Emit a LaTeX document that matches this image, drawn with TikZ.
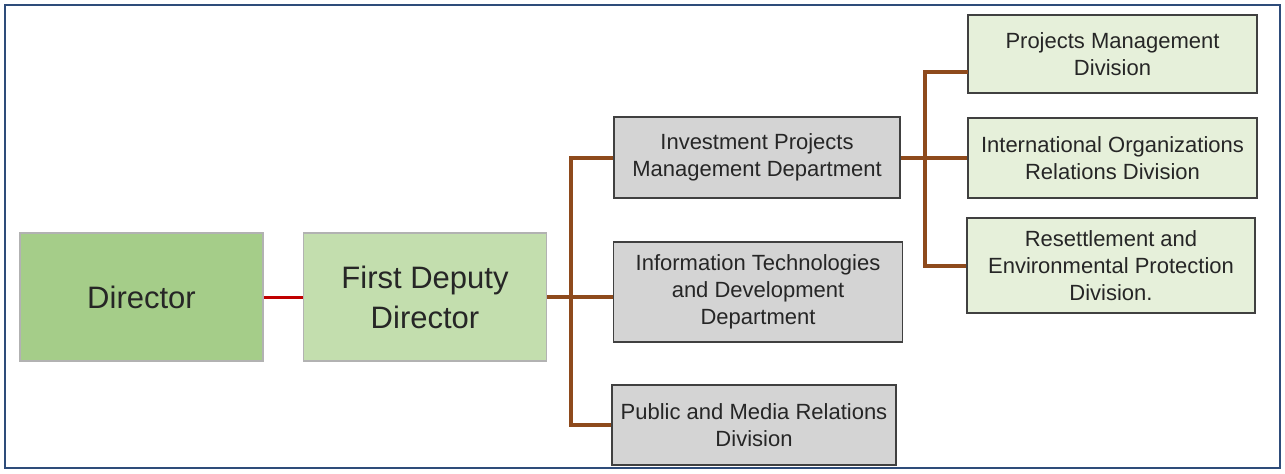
\documentclass[tikz,border=0pt]{standalone}
\usepackage{fontspec}
\setmainfont{Liberation Sans}
\usepackage{xcolor}
\usetikzlibrary{calc}
\definecolor{dirgreen}{HTML}{A5CD89}
\definecolor{fddgreen}{HTML}{C3DEAE}
\definecolor{divgreen}{HTML}{E6F0DA}
\definecolor{deptgrey}{HTML}{D4D4D4}
\definecolor{linkbrown}{HTML}{8E4A1C}
\definecolor{linkred}{HTML}{C00000}
\definecolor{frameblue}{HTML}{2E4C7A}

\begin{document}
\begin{tikzpicture}[x=0.5pt,y=-0.5pt,
    topbox/.style={draw=black!30, line width=0.8pt, align=center, text=black!85,
        font=\fontsize{15.5}{20}\selectfont, minimum width=121.5pt, minimum height=64pt, inner sep=0pt},
    deptbox/.style={draw=black!75, fill=deptgrey, line width=0.9pt, align=center, text=black!85,
        font=\fontsize{11}{13.5}\selectfont, inner sep=0pt},
    divbox/.style={deptbox, fill=divgreen},
    redlink/.style={draw=linkred, line width=1.5pt},
    brownlink/.style={draw=linkbrown, line width=2pt}]
    \useasboundingbox (0,0) rectangle (1285,473);
    \draw[frameblue, line width=1pt] (5,5) rectangle (1280,468);

    \node[topbox, fill=dirgreen] (dir) at (141.5,297) {Director};
    \node[topbox, fill=fddgreen] (fdd) at (425,297) {First Deputy\\Director};

    \node[deptbox, minimum width=143pt, minimum height=40.5pt] (ipm) at (757,157.5) {Investment Projects\\Management Department};
    \node[deptbox, minimum width=144.5pt, minimum height=50pt] (itd) at (758,292) {Information Technologies\\and Development\\Department};
    \node[deptbox, minimum width=142pt, minimum height=40pt] (pmr) at (754,425) {Public and Media Relations\\Division};

    \node[divbox, minimum width=144.5pt, minimum height=39pt] (pmd) at (1112.5,54) {Projects Management\\Division};
    \node[divbox, minimum width=144.5pt, minimum height=40pt] (ior) at (1112.5,158) {International Organizations\\Relations Division};
    \node[divbox, minimum width=144pt, minimum height=47.5pt] (rep) at (1111,265.5) {Resettlement and\\Environmental Protection\\Division.};

    \coordinate (jl) at (571,297);
    \coordinate (jr) at (925,157);
    \coordinate (pmdin) at (968,72);

    \draw[redlink] (dir) -- (fdd);
    \draw[brownlink] (fdd.east) -- (fdd.east -| itd.west);
    \draw[brownlink] (ipm.west) -| (jl) |- (pmr.west);
    \draw[brownlink] (ipm.east) -- (ipm.east -| ior.west);
    \draw[brownlink] (pmdin) -| (jr) |- (rep.west);
\end{tikzpicture}
\end{document}
